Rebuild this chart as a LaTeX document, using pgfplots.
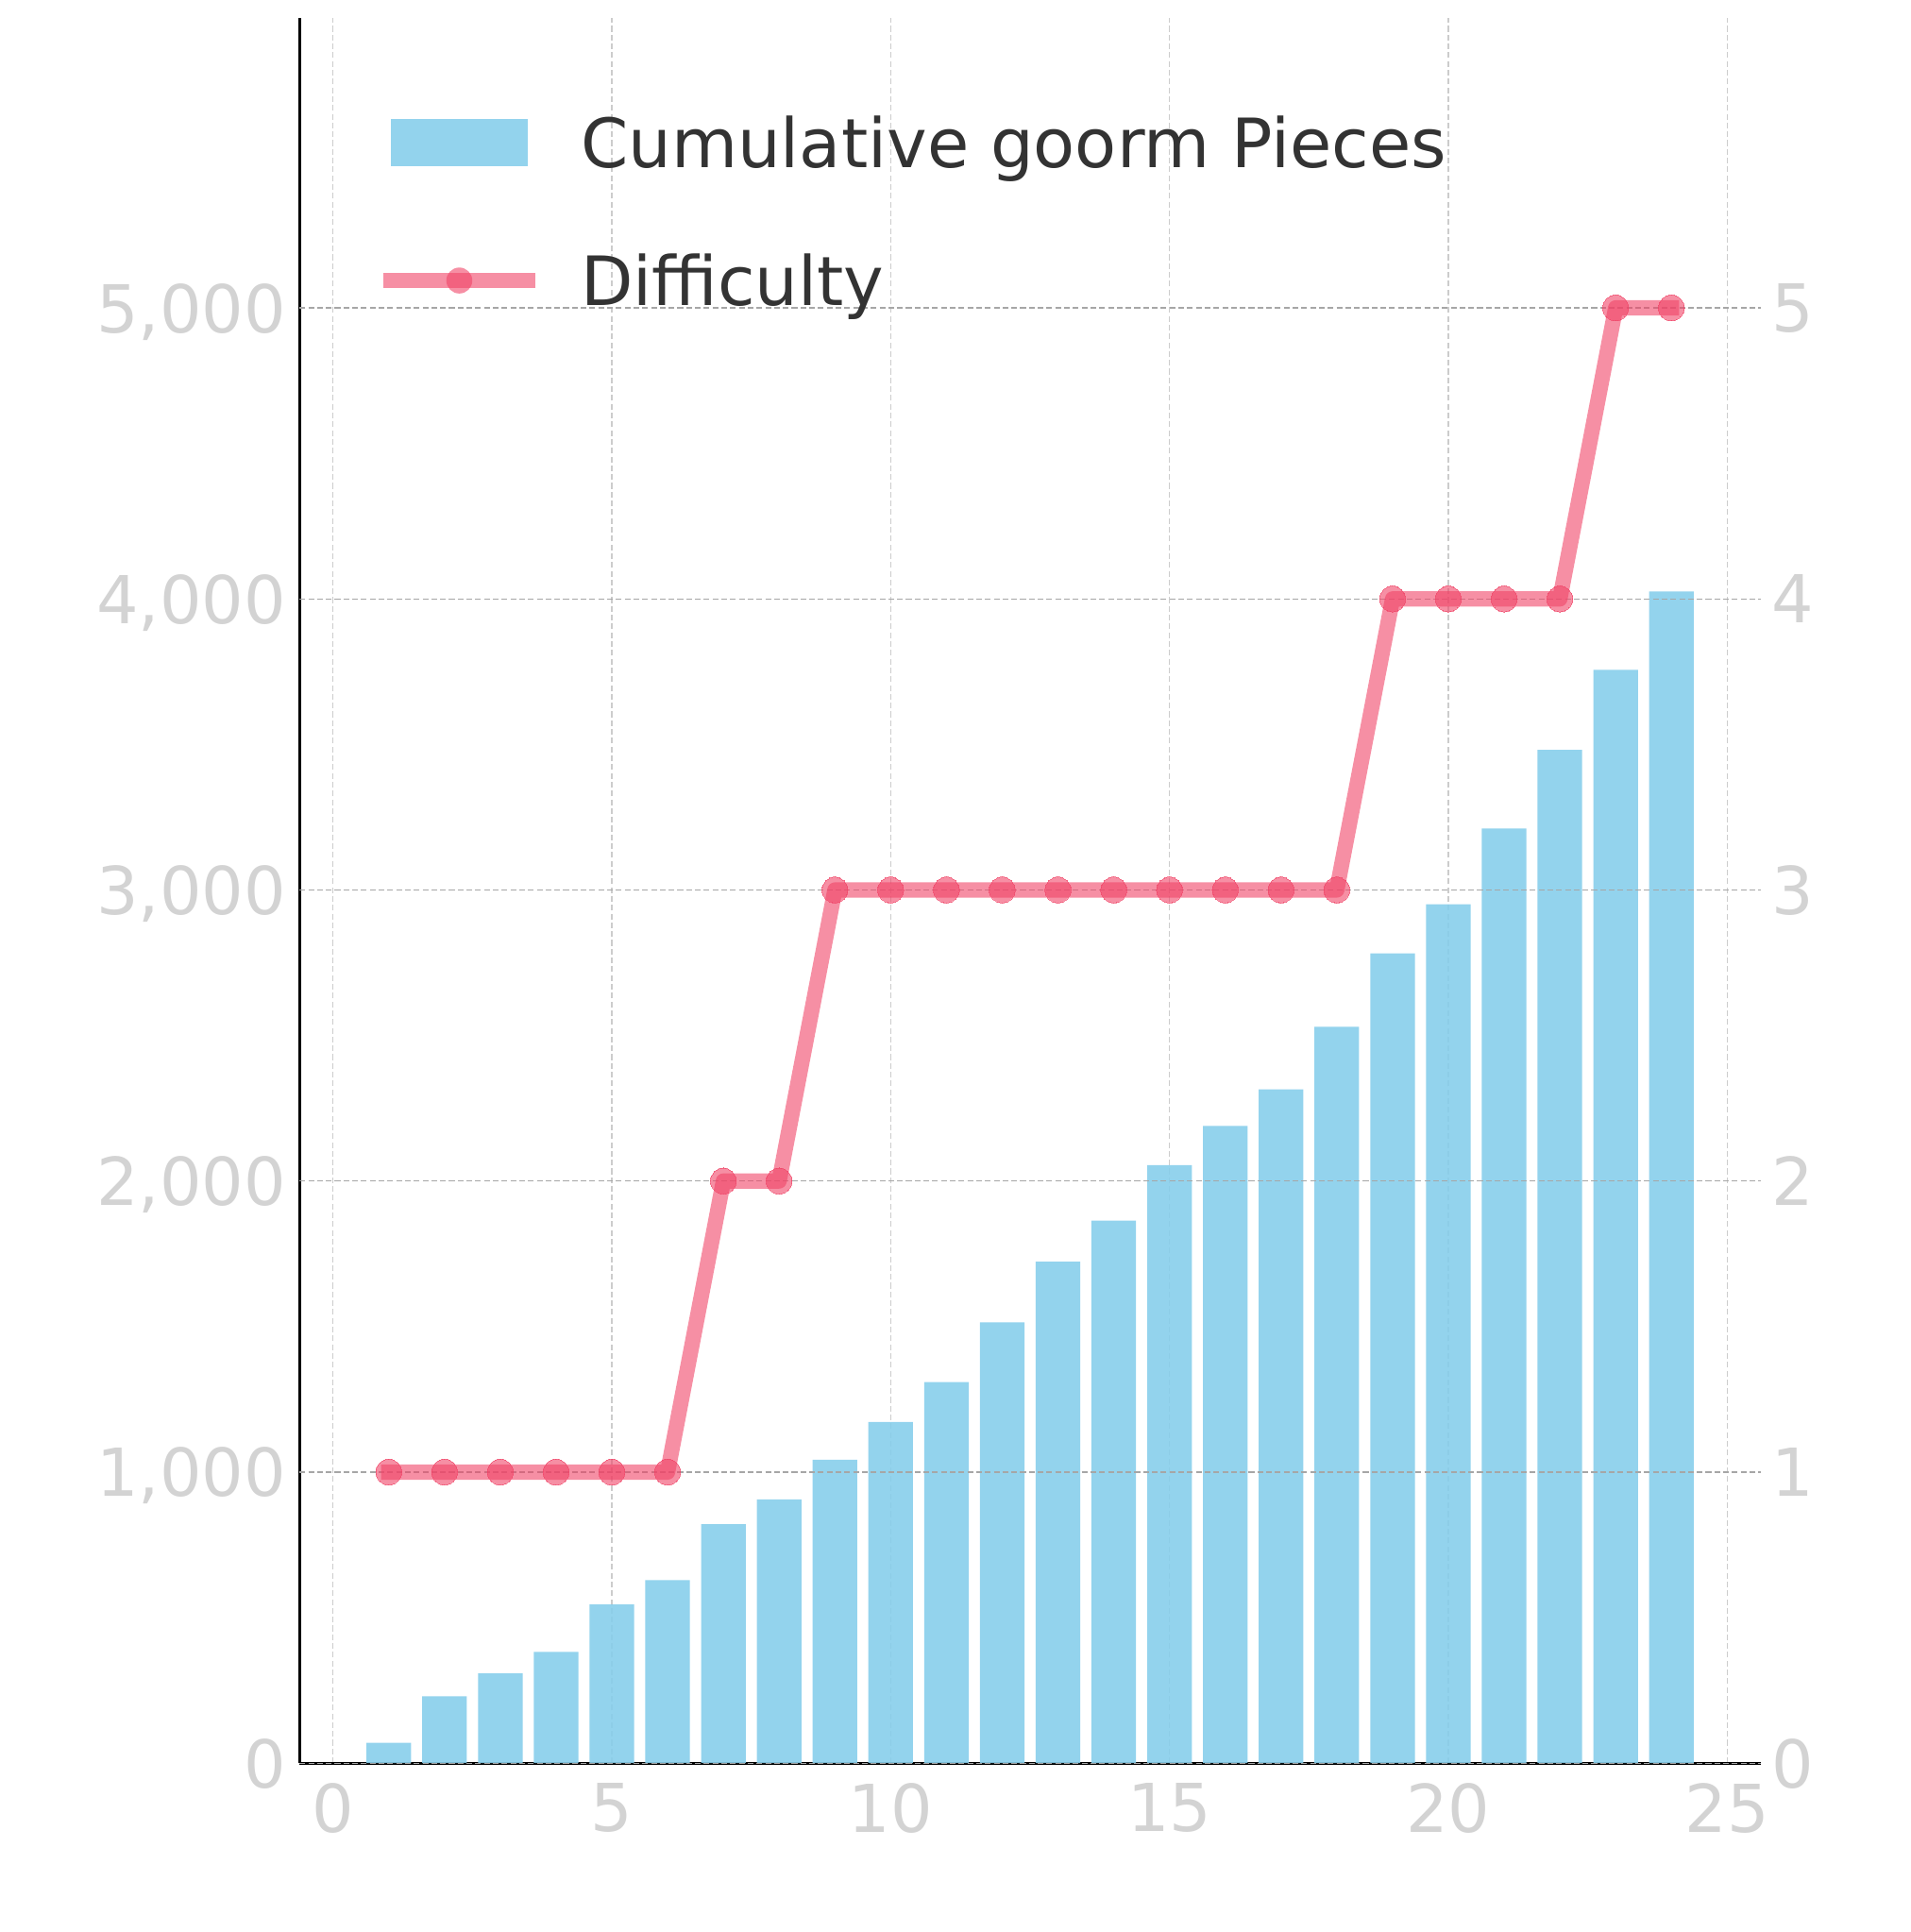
\documentclass[border=0pt]{standalone}
\usepackage{fontspec}
\setmainfont{DejaVu Sans}
\usepackage{pgfplots}
\pgfplotsset{compat=1.18}
\definecolor{barc}{HTML}{87CEEB}
\definecolor{linec}{HTML}{F04467}
\definecolor{tickc}{HTML}{D3D3D3}
\definecolor{textc}{HTML}{333333}
\begin{document}
\begin{tikzpicture}
\pgfplotsset{
  common/.style={
    width=382.4pt, height=456.6pt, scale only axis,
    xmin=-0.6, xmax=25.6,
    major tick length=0pt,
    tick style={draw=none},
    /pgf/number format/assume math mode=true,
    /pgf/number format/1000 sep={,},
    tick label style={font=\fontsize{17.3}{20.8}\selectfont, text=tickc, inner sep=0pt, text depth=0pt},
  }
}
\begin{axis}[common,
  ymin=0, ymax=5995,
  axis x line*=bottom, axis y line*=left,
  axis line style={-, black, line width=0.75pt},
  xtick={0,5,...,25}, ytick={0,1000,...,5000},
  xmajorgrids, ymajorgrids=false,
  grid style={dashed, dash pattern=on 1.5pt off 0.8pt, gray!40, line width=0.3pt},
  xticklabel style={yshift=-5pt},
  yticklabel style={xshift=-3.4pt},
]
\coordinate (sw) at (rel axis cs:0,0);
\addplot[ybar, bar width=0.8, fill=barc, fill opacity=0.9, draw=none] coordinates {
(1,70) (2,230) (3,308) (4,382) (5,545) (6,629) (7,821) (8,906)
(9,1042) (10,1172) (11,1309) (12,1514) (13,1723) (14,1864) (15,2055) (16,2189)
(17,2315) (18,2530) (19,2782) (20,2951) (21,3211) (22,3481) (23,3756) (24,4026)};
\end{axis}
\begin{axis}[common,
  ymin=0, ymax=5.995,
  hide x axis,
  axis y line*=right,
  y axis line style={draw=none},
  ytick={0,1,...,5},
  ymajorgrids,
  grid style={dashed, dash pattern=on 1.5pt off 0.8pt, gray!70, line width=0.3pt},
  yticklabel style={xshift=2.8pt},
  legend style={at={(0.0513,0.9498)}, anchor=north west, draw=none, fill=none,
    inner sep=0pt, row sep=17pt,
    font=\fontsize{17.8}{21.4}\selectfont, text=textc,
    nodes={inner sep=0pt, text height=16pt, text depth=3pt},
    /tikz/every odd column/.append style={column sep=9.8pt}},
  legend cell align=left,
]
\addlegendimage{legend image code/.code={\path[fill=barc, fill opacity=0.9, draw=none] (-17.9pt,-6.2pt) rectangle (17.9pt,6.2pt);}}
\addlegendentry{Cumulative goorm Pieces}
\addplot[color=linec, opacity=0.6, line width=4pt, line cap=rect, line join=round,
  mark=*, mark size=3.4pt, mark options={solid, fill=linec, draw=linec, line width=0pt},
  legend image code/.code={\path[draw=linec, draw opacity=0.6, line width=4pt, line cap=butt] (-20pt,0pt) -- (20pt,0pt); \path[fill=linec, fill opacity=0.6, draw=none, line width=0pt] (0pt,0pt) circle (3.4pt);}]
coordinates {
(1,1) (2,1) (3,1) (4,1) (5,1) (6,1) (7,2) (8,2) (9,3) (10,3) (11,3) (12,3)
(13,3) (14,3) (15,3) (16,3) (17,3) (18,3) (19,4) (20,4) (21,4) (22,4) (23,5) (24,5)};
\addlegendentry{Difficulty}
\end{axis}
\path (sw) ++(-78.4pt,-44.2pt) rectangle ++(500pt,505.6pt);
\end{tikzpicture}
\end{document}
